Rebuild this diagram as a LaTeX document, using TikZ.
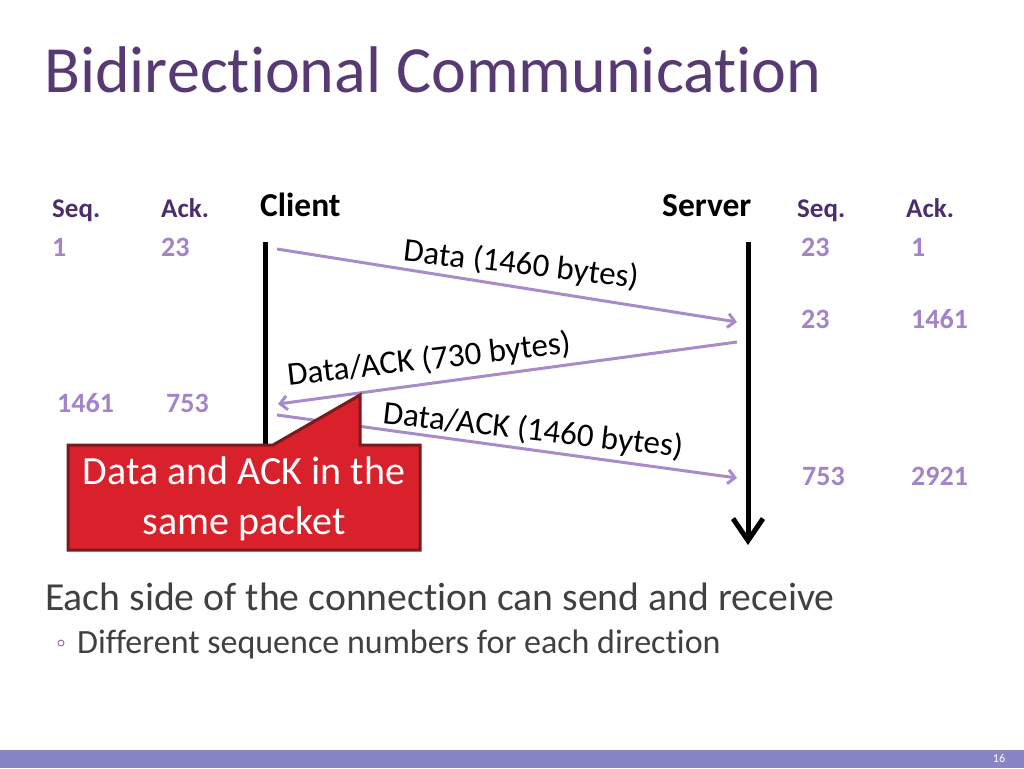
\documentclass[tikz,border=0pt]{standalone}
\usepackage{fontspec}
\setmainfont{Carlito}[Ligatures=NoCommon]
\usetikzlibrary{arrows.meta}
\definecolor{titlecol}{HTML}{573A74}
\definecolor{headcol}{HTML}{4B2E6C}
\definecolor{numcol}{HTML}{A383C9}
\definecolor{msgcol}{HTML}{A98BCB}
\definecolor{bodycol}{HTML}{404040}
\definecolor{notefill}{HTML}{D9212C}
\definecolor{noteedge}{HTML}{7A1A1C}
\definecolor{barcol}{HTML}{8785C4}
\begin{document}
\begin{tikzpicture}[x=1pt,y=-1pt,
  head/.style={text=headcol,font=\fontsize{27}{30}\selectfont\bfseries,anchor=base west,inner sep=0pt},
  num/.style={text=numcol,font=\fontsize{28}{30}\selectfont\bfseries,anchor=base west,inner sep=0pt},
  host/.style={font=\fontsize{33.5}{36}\selectfont\bfseries,anchor=base west,inner sep=0pt},
  life/.style={line width=5pt},
  msg/.style={draw=msgcol,line width=3pt,-{Straight Barb[length=7pt,width=14pt]}},
  lbl/.style={font=\fontsize{33}{36}\selectfont,inner sep=0pt},
  notetext/.style={text=white,font=\fontsize{40}{44}\selectfont,anchor=base,inner sep=0pt},
  body/.style={text=bodycol,anchor=base west,inner sep=0pt}]
\useasboundingbox (0,0) rectangle (1024,768);
%%
  % Title
  \node[text=titlecol,font=\fontsize{66}{70}\selectfont,anchor=base west,inner sep=0pt] (title) at (44,92) {Bidirectional Communication};
  % Hosts
  \node[host] (client) at (260,216) {Client};
  \node[host] (server) at (662,216) {Server};
  % Client side counters
  \node[head] (cseq) at (52,217) {Seq.};
  \node[head] (cack) at (161,217) {Ack.};
  \node[num] (cseq1) at (52,256) {1};
  \node[num] (cack1) at (161,256) {23};
  \node[num] (cseq2) at (57,412) {1461};
  \node[num] (cack2) at (166,412) {753};
  % Server side counters
  \node[head] (sseq) at (797,217) {Seq.};
  \node[head] (sack) at (906,217) {Ack.};
  \node[num] (sseq1) at (801,256) {23};
  \node[num] (sack1) at (911,256) {1};
  \node[num] (sseq2) at (801,328) {23};
  \node[num] (sack2) at (911,328) {1461};
  \node[num] (sseq3) at (802,485) {753};
  \node[num] (sack3) at (911,485) {2921};
  % Lifelines
  \coordinate (ctop) at (265,242);
  \coordinate (cbot) at (265,520);
  \coordinate (stop) at (748,242);
  \coordinate (sbot) at (748,545);
  \draw[life] (ctop) -- (cbot);
  \draw[life,-{Straight Barb[length=22pt,width=30pt,line width=5pt]}] (stop) -- (sbot);
  % Edge: Client -> Server
  \coordinate (c1) at (277,249);
  \coordinate (s1) at (737,322);
  \draw[msg] (c1) -- (s1);
  \node[lbl,rotate=-6.5] (lab1) at (521,265) {Data (1460 bytes)};
  % Edge: Server -> Client
  \coordinate (s2) at (737,342);
  \coordinate (c2) at (278,404);
  \draw[msg] (s2) -- (c2);
  \node[lbl,rotate=6.5] (lab2) at (429,360) {Data/ACK (730 bytes)};
  % Edge: Client -> Server
  \coordinate (c3) at (277,415);
  \coordinate (s3) at (737,478);
  \draw[msg] (c3) -- (s3);
  \node[lbl,rotate=-6.5] (lab3) at (533,431) {Data/ACK (1460 bytes)};
  % Callout
  \draw[fill=notefill,draw=noteedge,line width=3pt,line join=miter]
    (68,445) -- (273,445) -- (360,395) -- (360,445) -- (420,445) -- (420,550) -- (68,550) -- cycle;
  \node[notetext] (note1) at (244,484) {Data and ACK in the};
  \node[notetext] (note2) at (244,534) {same packet};
  % Bottom text
  \node[body,font=\fontsize{39.7}{42}\selectfont] (point) at (45,610) {Each side of the connection can send and receive};
  \node[draw=gray!70!violet,line width=0.8pt,circle,minimum size=6pt,inner sep=0pt] (bullet) at (61,643) {};
  \node[body,font=\fontsize{34}{36}\selectfont] (subpoint) at (77,653) {Different sequence numbers for each direction};
  % Footer
  \fill[barcol] (0,750) rectangle (1024,768);
  \node[text=white,font=\fontsize{12}{14}\selectfont,inner sep=0pt] (page) at (999,758) {16};
%
\end{tikzpicture}
\end{document}
